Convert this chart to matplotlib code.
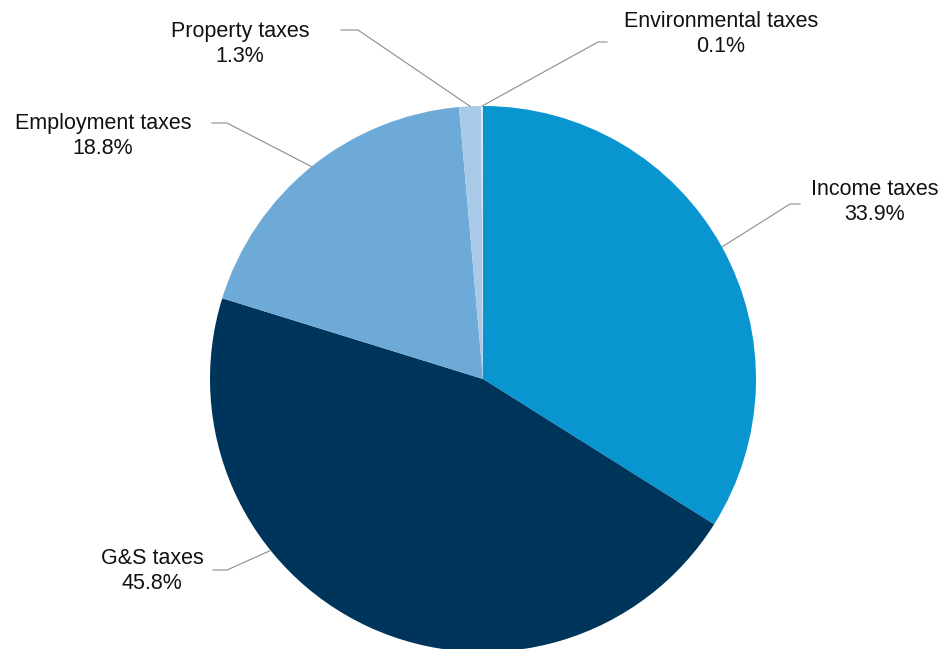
import numpy as np
import matplotlib
matplotlib.use("Agg")
from matplotlib import pyplot as plt

plt.rcParams['font.family'] = ['Liberation Sans', 'DejaVu Sans']

# Part of each tax category (%)
categories = ['Income taxes', 'G&S taxes', 'Employment taxes',
              'Property taxes', 'Environmental taxes']
shares = [33.9, 45.8, 18.8, 1.3, 0.1]
colours = ['#0995cf', '#00355b', '#6eaad8', '#a8cae8', '#dce9f5']

W, H = 944, 649
fig = plt.figure(figsize=(W / 100, H / 100), dpi=100)
ax = fig.add_axes([0, 0, 1, 1])

cx, cy, r = 483, H - 379, 273
wedges, _ = ax.pie(shares, colors=colours, startangle=90, counterclock=False,
                   center=(cx, cy), radius=r, frame=True,
                   wedgeprops=dict(linewidth=0))
ax.set_xlim(0, W)
ax.set_ylim(0, H)
ax.set_aspect('equal')
ax.axis('off')

# where the leader line leaves each wedge (fraction of its span)
ancre = [0.5, 0.66, 0.5, 0.5, 0.5]
# label centre, elbow of the leader line, end of the horizontal bit
pos_texte = [(875, 202), (152, 571), (103, 136), (240, 44), (721, 34)]
coude = [(790, 204), (227, 570), (227, 123), (358, 30), (598, 42)]
bout = [(800, 204), (213, 570), (212, 123), (341, 30), (607, 42)]

for w, nom, p, f, tp, cd, bt in zip(wedges, categories, shares, ancre,
                                     pos_texte, coude, bout):
    a = np.radians(w.theta1 + (w.theta2 - w.theta1) * (1 - f))
    x0, y0 = cx + r * np.cos(a), cy + r * np.sin(a)
    ax.plot([x0, cd[0], bt[0]], [y0, H - cd[1], H - bt[1]],
            color='#8c8c8c', lw=0.8)
    ax.text(tp[0], H - tp[1], f'{nom}\n{p:.1f}%', ha='center', va='center',
            fontsize=15.5, color='#111111', linespacing=1.2)

plt.savefig('out.png', dpi=100)
